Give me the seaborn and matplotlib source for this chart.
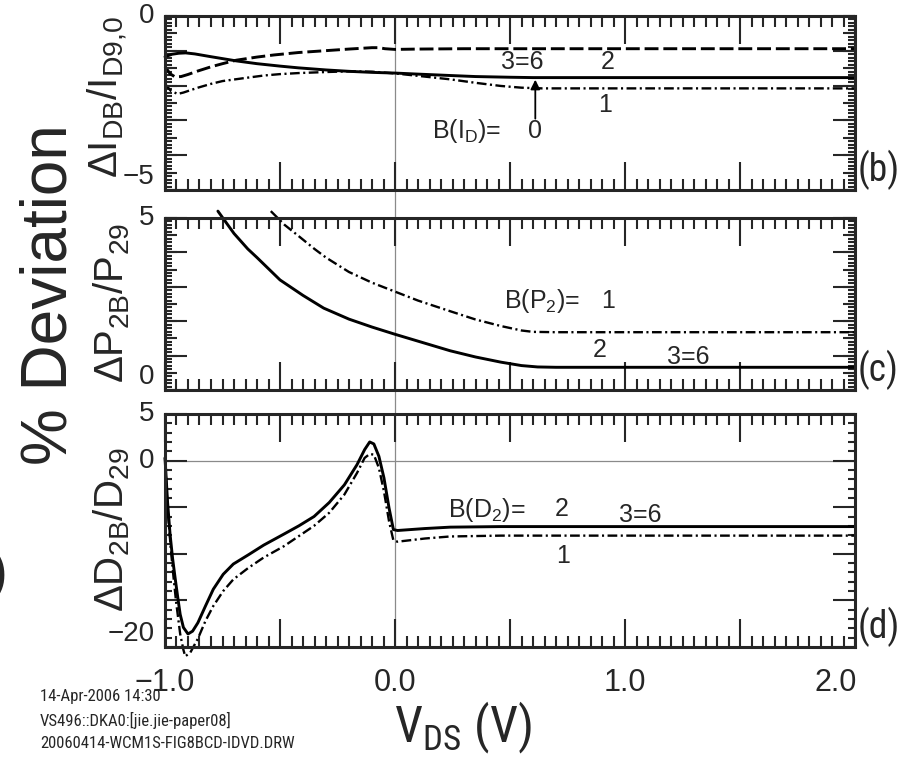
import matplotlib
matplotlib.use("Agg")
import matplotlib.pyplot as plt
from matplotlib import font_manager as fm
from matplotlib.ticker import MultipleLocator, FixedLocator, NullFormatter
import seaborn as sns

# ---------------- data ----------------
# Panel (b): delta I_DB / I_D9,0  (%)
b_solid_x = [-1.0, -0.97, -0.94, -0.91, -0.87, -0.8, -0.69, -0.6, -0.5, -0.42, -0.3, -0.2, -0.1,
             0.0, 0.1, 0.24, 0.35, 0.5, 0.6, 1.0, 1.5, 2.0]
b_solid_y = [-1.17, -1.1, -1.07, -1.06, -1.09, -1.17, -1.29, -1.37, -1.44, -1.49, -1.55, -1.59, -1.62,
             -1.64, -1.67, -1.71, -1.74, -1.76, -1.77, -1.77, -1.77, -1.77]
b_dash_x = [-1.0, -0.978, -0.956, -0.93, -0.9, -0.857, -0.8, -0.75, -0.69, -0.6, -0.527, -0.42,
            -0.31, -0.2, -0.1, -0.07, -0.044, 0.0, 0.1, 0.3, 0.6, 1.0, 1.5, 2.0]
b_dash_y = [-1.45, -1.66, -1.75, -1.74, -1.68, -1.58, -1.46, -1.37, -1.27, -1.18, -1.12, -1.05,
            -1.0, -0.95, -0.91, -0.91, -0.94, -0.96, -0.95, -0.94, -0.94, -0.94, -0.94, -0.94]
b_dd_x = [-1.0, -0.975, -0.945, -0.92, -0.857, -0.8, -0.75, -0.65, -0.57, -0.5, -0.42, -0.3, -0.2,
          -0.1, 0.0, 0.1, 0.24, 0.35, 0.46, 0.55, 0.64, 0.8, 1.0, 1.5, 2.0]
b_dd_y = [-1.95, -2.15, -2.24, -2.2, -2.06, -1.95, -1.87, -1.78, -1.71, -1.67, -1.64, -1.61, -1.59,
          -1.6, -1.65, -1.72, -1.82, -1.92, -2.01, -2.06, -2.08, -2.08, -2.08, -2.08, -2.08]

# Panel (c): delta P_2B / P_29 (%)
c_solid_x = [-0.77, -0.7, -0.64, -0.6, -0.5, -0.4, -0.31, -0.2, -0.1, 0.0, 0.1, 0.24, 0.35, 0.46,
             0.55, 0.62, 0.7, 1.0, 1.5, 2.0]
c_solid_y = [5.2, 4.55, 4.1, 3.85, 3.2, 2.75, 2.38, 2.06, 1.83, 1.62, 1.42, 1.14, 0.96, 0.81,
             0.71, 0.67, 0.66, 0.66, 0.66, 0.66]
c_dd_x = [-0.54, -0.48, -0.42, -0.35, -0.3, -0.2, -0.1, 0.0, 0.1, 0.24, 0.35, 0.46, 0.55, 0.6,
          0.7, 1.0, 1.5, 2.0]
c_dd_y = [5.2, 4.8, 4.48, 4.1, 3.85, 3.43, 3.12, 2.86, 2.6, 2.29, 2.05, 1.86, 1.73, 1.69,
          1.68, 1.68, 1.68, 1.68]

# Panel (d): delta D_2B / D_29 (%)
d_solid_x = [-1.0, -0.989, -0.978, -0.967, -0.956, -0.945, -0.934, -0.92, -0.90, -0.88, -0.857,
             -0.824, -0.79, -0.747, -0.703, -0.637, -0.571, -0.484, -0.418, -0.352, -0.286,
             -0.22, -0.165, -0.132, -0.11, -0.092, -0.07, -0.048, -0.026, -0.007, 0.011, 0.13,
             0.24, 0.46, 1.0, 1.5, 2.0]
d_solid_y = [0.3, -4.4, -7.9, -10.5, -12.6, -14.6, -16.5, -17.9, -18.6, -18.3, -17.4,
             -15.6, -13.8, -12.2, -11.1, -10.1, -9.07, -7.9, -7.0, -6.0, -4.5,
             -2.6, -0.43, 1.18, 2.0, 1.79, 0.46, -1.86, -5.07, -7.4, -7.5, -7.29,
             -7.14, -7.08, -7.08, -7.08, -7.08]
d_dd_x = [-1.0, -0.989, -0.974, -0.963, -0.952, -0.934, -0.92, -0.912, -0.89, -0.857, -0.824,
          -0.79, -0.747, -0.703, -0.637, -0.571, -0.484, -0.418, -0.352, -0.286, -0.22,
          -0.165, -0.132, -0.11, -0.092, -0.07, -0.048, -0.026, -0.007, 0.011, 0.13, 0.24,
          0.46, 1.0, 1.5, 2.0]
d_dd_y = [0.3, -5.1, -9.7, -12.5, -15.1, -18.6, -20.3, -21.0, -20.6, -19.1, -17.2,
          -15.6, -14.0, -12.75, -11.5, -10.4, -9.2, -8.1, -7.0, -5.6, -3.64,
          -1.32, 0.29, 0.71, 0.64, -0.79, -3.3, -6.5, -8.57, -8.7, -8.36, -8.14,
          -8.05, -8.05, -8.05, -8.05]

x_ticks = [-1.0, 0.0, 1.0, 2.0]
x_ticklabels = ["\u22121.0", "0.0", "1.0", "2.0"]
b_yticks = [-5, 0]
b_yticklabels = ["\u22125", "0"]
c_yticks = [0, 5]
c_yticklabels = ["0", "5"]
d_yticks = [-20, 0, 5]
d_yticklabels = ["\u221220", "0", "5"]

# ---------------- style ----------------
sns.set_style("ticks")
plt.rcParams["font.family"] = ["Liberation Sans", "DejaVu Sans"]
plt.rcParams["mathtext.fontset"] = "custom"
plt.rcParams["mathtext.rm"] = "Liberation Sans"
plt.rcParams["mathtext.default"] = "regular"
plt.rcParams["lines.scale_dashes"] = False

# a condensed face for horizontal captions, if one is installed
_names = {f.name for f in fm.fontManager.ttflist}
NARROW = None
for cand in ["Liberation Sans Narrow", "Arial Narrow", "Roboto Condensed",
             "Open Sans Condensed"]:
    if cand in _names:
        NARROW = cand
        break
if NARROW is not None:
    NARROW_FAM = [NARROW, "Liberation Sans", "DejaVu Sans"]
    k_narrow = 1.0
else:
    NARROW_FAM = ["Liberation Sans", "DejaVu Sans"]
    k_narrow = 0.8

W, H = 901, 763
fig = plt.figure(figsize=(W / 100, H / 100), dpi=100)

L = 165 / W
AW = 690 / W


def axes_box(top_px, bot_px):
    return [L, 1 - bot_px / H, AW, (bot_px - top_px) / H]


ax_b = fig.add_axes(axes_box(16, 190))
ax_c = fig.add_axes(axes_box(218, 390))
ax_d = fig.add_axes(axes_box(414, 647))

SOLID = "-"
DASH = (0, (10, 3.5))
DASHDOT = (0, (7, 2.5, 1.5, 2.5))


def draw(ax, xs, ys, ls, lw):
    sns.lineplot(x=xs, y=ys, ax=ax, color="black", linewidth=lw, linestyle=ls,
                 estimator=None, sort=False, legend=False)
    ax.lines[-1].set_clip_on(False)


draw(ax_b, b_dash_x, b_dash_y, DASH, 2.1)
draw(ax_b, b_solid_x, b_solid_y, SOLID, 2.1)
draw(ax_b, b_dd_x, b_dd_y, DASHDOT, 1.7)

draw(ax_c, c_solid_x, c_solid_y, SOLID, 2.1)
draw(ax_c, c_dd_x, c_dd_y, DASHDOT, 1.7)

draw(ax_d, d_solid_x, d_solid_y, SOLID, 2.1)
draw(ax_d, d_dd_x, d_dd_y, DASHDOT, 1.7)

ylims = {ax_b: (-5, 0), ax_c: (0, 5), ax_d: (-20, 5)}
gaps = {ax_b: (218 - 190) / 174, ax_c: (414 - 390) / 172, ax_d: 0}

for ax in (ax_b, ax_c, ax_d):
    ax.set_xlim(-1.0, 2.0)
    ax.set_ylim(*ylims[ax])
    ax.set_xlabel("")
    ax.set_ylabel("")
    for s in ax.spines.values():
        s.set_linewidth(2.2)
        s.set_visible(True)
    ax.axvline(0.0, ymin=-gaps[ax], ymax=1, color="#8a8a8a", lw=0.9, zorder=0,
               clip_on=False)
    ax.xaxis.set_major_locator(MultipleLocator(0.5))
    ax.xaxis.set_minor_locator(MultipleLocator(0.05))
    ax.xaxis.set_major_formatter(NullFormatter())
    ax.tick_params(axis="x", which="major", direction="in", length=20, width=1.5,
                   top=True, bottom=True, labelbottom=False)
    ax.tick_params(axis="x", which="minor", direction="in", length=8, width=1.5,
                   top=True, bottom=True)

ax_d.axhline(0.0, color="#8a8a8a", lw=0.9, zorder=0)


def yticks(ax, major, minor, medium):
    tw = ax.twinx()
    tw.set_ylim(ax.get_ylim())
    ax.yaxis.set_major_locator(FixedLocator(major))
    ax.yaxis.set_minor_locator(MultipleLocator(minor))
    ax.tick_params(axis="y", which="major", direction="in", length=16, width=1.5,
                   left=True, right=True, labelleft=False, labelright=False)
    ax.tick_params(axis="y", which="minor", direction="in", length=5, width=1.5,
                   left=True, right=True)
    if medium is not None:
        tw.yaxis.set_major_locator(MultipleLocator(medium))
        tw.tick_params(axis="y", which="major", direction="in", length=8.5, width=1.5,
                       left=True, right=True, labelleft=False, labelright=False)
    else:
        tw.set_yticks([])
    tw.yaxis.set_minor_locator(FixedLocator([]))
    for s in tw.spines.values():
        s.set_visible(False)
    return tw


yticks(ax_b, [-5, -4, -3, -2, -1, 0], 0.1, 0.5)
yticks(ax_c, [0, 1, 2, 3, 4, 5], 0.1, 0.5)
yticks(ax_d, [-20, -15, -10, -5, 0, 5], 1, None)


def ylabels(ax, vals, labels):
    trans = ax.get_yaxis_transform()
    lo = min(vals)
    for v, t in zip(vals, labels):
        ax.text(-0.015, v, t, transform=trans, ha="right",
                va="bottom" if v == lo else "center", fontsize=20)


ylabels(ax_b, b_yticks, b_yticklabels)
ylabels(ax_c, c_yticks, c_yticklabels)
ylabels(ax_d, d_yticks, d_yticklabels)

# x tick labels (the last one kept inside the frame, as in the reference)
xtrans = ax_d.get_xaxis_transform()
for v, t in zip(x_ticks, x_ticklabels):
    ha = "right" if v == max(x_ticks) else "center"
    xx = v + 0.01 if ha == "right" else v
    ax_d.text(xx, -0.09, t, transform=xtrans, ha=ha, va="top", fontsize=22)

# annotations
ANN = 18
ax_b.text(0.552, -1.33, "3=6", ha="center", va="center", fontsize=ANN)
ax_b.text(0.926, -1.33, "2", ha="center", va="center", fontsize=ANN)
ax_b.text(0.913, -2.57, "1", ha="center", va="center", fontsize=ANN)
ax_b.text(0.46, -3.3, r"B(I$_D$)=", ha="right", va="center", fontsize=ANN)
ax_b.text(0.61, -3.3, "0", ha="center", va="center", fontsize=ANN)
ax_b.annotate("", xy=(0.61, -1.83), xytext=(0.61, -2.95),
              arrowprops=dict(arrowstyle="-|>", color="black", lw=1.3,
                              mutation_scale=14, shrinkA=0, shrinkB=0))

ax_c.text(0.804, 2.6, r"B(P$_2$)=", ha="right", va="center", fontsize=ANN)
ax_c.text(0.926, 2.6, "1", ha="center", va="center", fontsize=ANN)
ax_c.text(0.891, 1.17, "2", ha="center", va="center", fontsize=ANN)
ax_c.text(1.274, 0.95, "3=6", ha="center", va="center", fontsize=ANN)

ax_d.text(0.565, -5.25, r"B(D$_2$)=", ha="right", va="center", fontsize=ANN)
ax_d.text(0.726, -5.2, "2", ha="center", va="center", fontsize=ANN)
ax_d.text(1.065, -5.86, "3=6", ha="center", va="center", fontsize=ANN)
ax_d.text(0.73, -10.25, "1", ha="center", va="center", fontsize=ANN)

for ax, lab in ((ax_b, "(b)"), (ax_c, "(c)"), (ax_d, "(d)")):
    ax.text(1.004, 0.0, lab, transform=ax.transAxes, ha="left", va="bottom",
            fontsize=27 * k_narrow, family=NARROW_FAM)

# axis titles
fig.text(108 / W, 1 - 97 / H, r"$\Delta I_{DB}/I_{D9{,}0}$", rotation=90,
         ha="center", va="center", fontsize=29)
fig.text(112 / W, 1 - 303 / H, r"$\Delta P_{2B}/P_{29}$", rotation=90,
         ha="center", va="center", fontsize=29)
fig.text(112 / W, 1 - 530 / H, r"$\Delta D_{2B}/D_{29}$", rotation=90,
         ha="center", va="center", fontsize=29)
fig.text(50 / W, 1 - 295 / H, "% Deviation", rotation=90, ha="center", va="center",
         fontsize=46)
fig.text(8 / W, 1 - 575 / H, "(a)", ha="right", va="center", fontsize=40)

fig.text(463 / W, 1 - 728 / H, r"V$_{DS}$ (V)", ha="center", va="center",
         fontsize=36 * k_narrow, family=NARROW_FAM)

for i, line in enumerate(["14-Apr-2006 14:30", "VS496::DKA0:[jie.jie-paper08]",
                          "20060414-WCM1S-FIG8BCD-IDVD.DRW"]):
    fig.text(40 / W, 1 - (697 + 23 * i) / H, line, ha="left", va="center",
             fontsize=12 * k_narrow, family=NARROW_FAM)

fig.savefig("out.png", dpi=100, facecolor="white")
